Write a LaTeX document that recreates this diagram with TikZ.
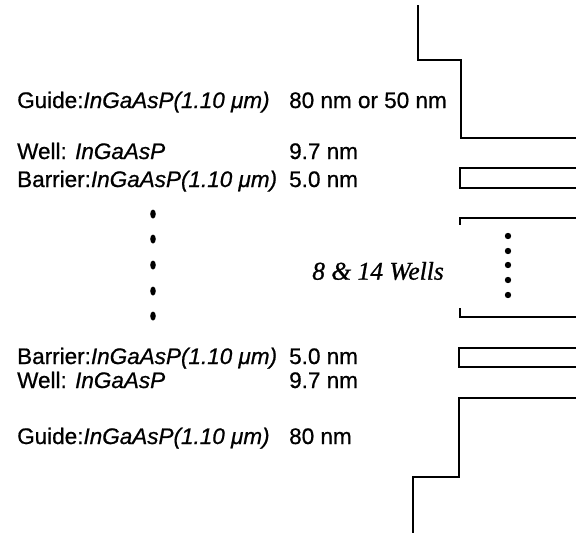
\documentclass[tikz,border=0pt]{standalone}
\usepackage{fontspec}
\setmainfont{Liberation Sans}[FakeBold=0.7]
\newfontfamily\wellfont{Liberation Serif}[FakeBold=0.9]
\usepackage{tikz}
\newcommand{\mat}{\textit{InGaAsP}}
\newcommand{\matq}{\textit{InGaAsP(1.10 μm)}}

\begin{document}
\begin{tikzpicture}[x=1pt,y=-1pt]
\tikzstyle{every node}=[inner sep=0pt,font=\fontsize{22.5}{26}\selectfont]
\tikzstyle{lay}=[anchor=base west]
\tikzstyle{prof}=[line width=1.8pt,line join=miter]
\useasboundingbox (0,0) rectangle (576,536);
% layer labels
\node[lay] (g1) at (17,108) {Guide:\matq};
\node[lay] (g1v) at (289,108) {80 nm or 50 nm};
\node[lay] (w1) at (17,159) {Well: \mat};
\node[lay] (w1v) at (289,159) {9.7 nm};
\node[lay] (b1) at (17,187) {Barrier:\matq};
\node[lay] (b1v) at (289,187) {5.0 nm};
\node[lay] (b2) at (17,364) {Barrier:\matq};
\node[lay] (b2v) at (289,364) {5.0 nm};
\node[lay] (w2) at (17,388) {Well: \mat};
\node[lay] (w2v) at (289,388) {9.7 nm};
\node[lay] (g2) at (17,444) {Guide:\matq};
\node[lay] (g2v) at (289,444) {80 nm};
\node (nw) at (378,271) {\wellfont\fontsize{25.5}{30}\selectfont\itshape 8 \& 14 Wells};
\foreach \y in {214,239,265,291,316} \fill (153,\y) ellipse (2.8pt and 4.5pt);
\foreach \y in {236,251,265,280,295} \fill (508,\y) circle (3.2pt);
% band profile
\draw[prof] (418,5) -- (418,60) -- (461,60) -- (461,138) -- (577,138);
\draw[prof] (577,168) -- (460,168) -- (460,188) -- (577,188);
\draw[prof] (577,218) -- (460,218) -- (460,225);
\draw[prof] (460,308) -- (460,317) -- (577,317);
\draw[prof] (577,348) -- (459,348) -- (459,367) -- (577,367);
\draw[prof] (577,398) -- (459,398) -- (459,477) -- (413,477) -- (413,533);
\end{tikzpicture}
\end{document}
